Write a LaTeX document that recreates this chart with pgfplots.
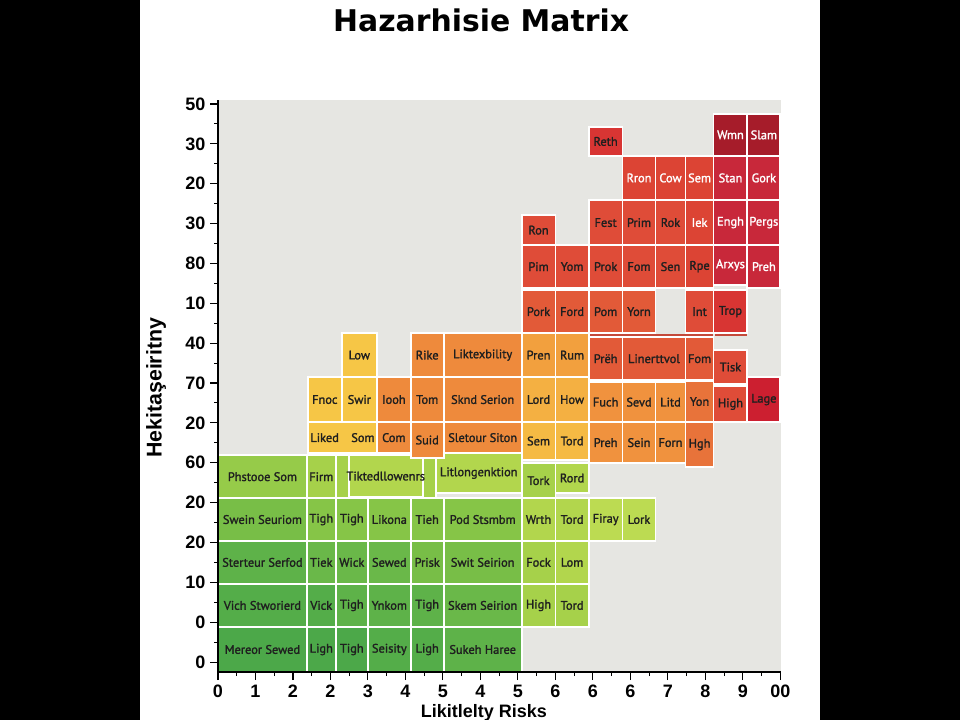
\documentclass[border=0pt]{standalone}
\usepackage{pgfplots}
\pgfplotsset{compat=1.18}
\usepackage{fontspec}
\setmainfont{Liberation Sans}
\newfontfamily\titlefont{DejaVu Sans}
\newfontfamily\cellfont{PT Sans}[FakeBold=1.6]

\definecolor{plotbg}{HTML}{E6E6E2}
\definecolor{ink}{HTML}{1F1F1F}
\definecolor{G1}{HTML}{4CA849}
\definecolor{G2}{HTML}{54AD49}
\definecolor{G3}{HTML}{5EB249}
\definecolor{G4}{HTML}{6AB849}
\definecolor{G5}{HTML}{78BE47}
\definecolor{G6}{HTML}{86C547}
\definecolor{G7}{HTML}{96CB49}
\definecolor{G8}{HTML}{A6D14A}
\definecolor{G9}{HTML}{B2D64D}
\definecolor{G10}{HTML}{BCDB52}
\definecolor{Y1}{HTML}{F6C646}
\definecolor{Y2}{HTML}{F5BA44}
\definecolor{Y3}{HTML}{F4B042}
\definecolor{Y4}{HTML}{F2A03E}
\definecolor{O1}{HTML}{EE8A3C}
\definecolor{O2}{HTML}{F0923E}
\definecolor{O3}{HTML}{E8733A}
\definecolor{R1}{HTML}{E25A38}
\definecolor{R2}{HTML}{DF4C38}
\definecolor{R3}{HTML}{DC4434}
\definecolor{R4}{HTML}{D83533}
\definecolor{R5}{HTML}{C8283A}
\definecolor{R6}{HTML}{A61C2A}
\definecolor{R7}{HTML}{CC1F30}
\definecolor{strip}{HTML}{C4493A}

% one cell: x0, x1, y0, y1, fill, label, text colour
\newcommand{\cell}[7]{%
  \addplot[fill=#5, draw=white, line width=1.3pt] coordinates {(#1,#3) (#2,#3) (#2,#4) (#1,#4)} --cycle;
  \node[text=#7, font=\cellfont\fontsize{9.3}{10}\selectfont, inner sep=0pt]
    at (axis cs:{(#1+#2)/2},{(#3+#4)/2}) {#6};
}

\begin{document}
\begin{tikzpicture}
\useasboundingbox (0pt,0pt) rectangle (720pt,-540pt);
\fill[black] (0pt,0pt) rectangle (720pt,-540pt);
\fill[white] (105pt,0pt) rectangle (615pt,-540pt);
\begin{axis}[
    at={(163.5pt,-504pt)}, anchor=south west,
    scale only axis, width=422.6pt, height=429pt,
    xmin=0, xmax=15.03, ymin=-0.25, ymax=14.1,
    axis background/.style={fill=plotbg},
    axis x line*=bottom, axis y line*=left,
    axis line style={black, line width=0.9pt, -},
    axis on top,
    xtick={0,...,15},
    xticklabels={0,1,2,2,3,4,5,4,5,6,6,6,7,8,9,00},
    ytick={0,...,14},
    yticklabels={0,0,10,20,20,60,20,70,40,10,80,30,20,30,50},
    minor x tick num=1, minor y tick num=1,
    tick align=outside, major tick length=6pt, minor tick length=3pt,
    every tick/.style={black, line width=0.8pt},
    tick label style={font=\bfseries\fontsize{13.5}{13.5}\selectfont},
    title={Hazarhisie Matrix},
    title style={at={(axis description cs:0.467,1.126)}, anchor=center,
      font=\titlefont\bfseries\fontsize{22.4}{22.4}\selectfont},
    xlabel={Likitlelty Risks},
    xlabel style={at={(axis description cs:0.472,-0.072)}, anchor=center,
      font=\bfseries\fontsize{13.5}{13.5}\selectfont},
    ylabel={Hekitaşeiritny},
    ylabel style={at={(axis description cs:-0.11,0.497)}, anchor=center,
      font=\bfseries\fontsize{16}{16}\selectfont},
]
% row 13
\cell{0}{2.37}{-0.25}{0.88}{G1}{Mereor Sewed}{ink}
\cell{2.37}{3.14}{-0.25}{0.88}{G1}{Ligh}{ink}
\cell{3.14}{4.00}{-0.25}{0.88}{G1}{Tigh}{ink}
\cell{4.00}{5.14}{-0.25}{0.88}{G2}{Seisity}{ink}
\cell{5.14}{6.02}{-0.25}{0.88}{G2}{Ligh}{ink}
\cell{6.02}{8.10}{-0.25}{0.88}{G3}{Sukeh Haree}{ink}
% row 12
\cell{0}{2.37}{0.88}{1.96}{G2}{Vich Stworierd}{ink}
\cell{2.37}{3.14}{0.88}{1.96}{G2}{Vick}{ink}
\cell{3.14}{4.00}{0.88}{1.96}{G3}{Tigh}{ink}
\cell{4.00}{5.14}{0.88}{1.96}{G3}{Ynkom}{ink}
\cell{5.14}{6.02}{0.88}{1.96}{G3}{Tigh}{ink}
\cell{6.02}{8.10}{0.88}{1.96}{G4}{Skem Seirion}{ink}
\cell{8.10}{9.00}{0.88}{1.96}{G8}{High}{ink}
\cell{9.00}{9.89}{0.88}{1.96}{G8}{Tord}{ink}
% row 11
\cell{0}{2.37}{1.96}{3.04}{G3}{Sterteur Serfod}{ink}
\cell{2.37}{3.14}{1.96}{3.04}{G4}{Tiek}{ink}
\cell{3.14}{4.00}{1.96}{3.04}{G4}{Wick}{ink}
\cell{4.00}{5.14}{1.96}{3.04}{G4}{Sewed}{ink}
\cell{5.14}{6.02}{1.96}{3.04}{G5}{Prisk}{ink}
\cell{6.02}{8.10}{1.96}{3.04}{G5}{Swit Seirion}{ink}
\cell{8.10}{9.00}{1.96}{3.04}{G8}{Fock}{ink}
\cell{9.00}{9.89}{1.96}{3.04}{G9}{Lom}{ink}
% row 10
\cell{0}{2.37}{3.04}{4.11}{G5}{Swein Seuriom}{ink}
\cell{2.37}{3.14}{3.04}{4.11}{G6}{Tigh}{ink}
\cell{3.14}{4.00}{3.04}{4.11}{G6}{Tigh}{ink}
\cell{4.00}{5.14}{3.04}{4.11}{G6}{Likona}{ink}
\cell{5.14}{6.02}{3.04}{4.11}{G6}{Tieh}{ink}
\cell{6.02}{8.10}{3.04}{4.11}{G6}{Pod Stsmbm}{ink}
\cell{8.10}{9.00}{3.04}{4.11}{G9}{Wrth}{ink}
\cell{9.00}{9.89}{3.04}{4.11}{G9}{Tord}{ink}
\cell{9.89}{10.79}{3.04}{4.11}{G10}{Firay}{ink}
\cell{10.79}{11.67}{3.04}{4.11}{G10}{Lork}{ink}
% row 9
\cell{0}{2.37}{4.11}{5.19}{G7}{Phstooe Som}{ink}
\cell{2.37}{3.14}{4.11}{5.19}{G8}{Firm}{ink}
\cell{3.14}{3.49}{4.11}{5.19}{G8}{}{ink}
\cell{5.46}{5.81}{4.11}{5.19}{G8}{}{ink}
\cell{3.49}{5.46}{4.14}{5.19}{G9}{Tiktedllowenrs}{ink}
\cell{5.81}{8.10}{4.24}{5.24}{G9}{Litlongenktion}{ink}
\cell{8.10}{9.00}{4.11}{4.99}{G8}{Tork}{ink}
\cell{9.00}{9.89}{4.24}{4.99}{G9}{Rord}{ink}
% row 8
\cell{2.40}{4.24}{5.24}{6.02}{Y1}{Liked\quad Som}{ink}
\cell{4.24}{5.14}{5.24}{6.02}{O1}{Com}{ink}
\cell{5.14}{6.02}{5.12}{6.02}{O1}{Suid}{ink}
\cell{6.02}{8.10}{5.24}{6.02}{O1}{Sletour Siton}{ink}
\cell{8.10}{9.00}{5.07}{6.02}{Y2}{Sem}{ink}
\cell{9.00}{9.89}{5.07}{6.02}{Y2}{Tord}{ink}
\cell{9.89}{10.79}{4.99}{6.02}{O2}{Preh}{ink}
\cell{10.79}{11.67}{4.99}{6.02}{O2}{Sein}{ink}
\cell{11.67}{12.47}{4.99}{6.02}{O2}{Forn}{ink}
\cell{12.47}{13.22}{4.89}{6.02}{O3}{Hgh}{ink}
% row 7
\cell{2.40}{3.30}{6.02}{7.15}{Y1}{Fnoc}{ink}
\cell{3.30}{4.24}{6.02}{7.15}{Y1}{Swir}{ink}
\cell{4.24}{5.14}{6.02}{7.15}{O1}{Iooh}{ink}
\cell{5.14}{6.02}{6.02}{7.15}{O1}{Tom}{ink}
\cell{6.02}{8.10}{6.02}{7.15}{O1}{Sknd Serion}{ink}
\cell{8.10}{9.00}{6.02}{7.15}{Y3}{Lord}{ink}
\cell{9.00}{9.89}{6.02}{7.15}{Y3}{How}{ink}
\cell{9.89}{10.79}{6.02}{7.02}{O2}{Fuch}{ink}
\cell{10.79}{11.67}{6.02}{7.02}{O2}{Sevd}{ink}
\cell{11.67}{12.47}{6.02}{7.02}{O2}{Litd}{ink}
\cell{12.47}{13.22}{6.02}{7.05}{O3}{Yon}{ink}
\cell{13.22}{14.12}{6.02}{6.92}{R2}{High}{ink}
\cell{14.12}{15.00}{6.02}{7.15}{R7}{Lage}{ink}
% row 6
\cell{3.30}{4.24}{7.15}{8.25}{Y1}{Low}{ink}
\cell{5.14}{6.02}{7.15}{8.25}{O1}{Rike}{ink}
\cell{6.02}{8.10}{7.15}{8.25}{O1}{Liktexbility}{ink}
\cell{8.10}{9.00}{7.15}{8.25}{Y4}{Pren}{ink}
\cell{9.00}{9.89}{7.15}{8.25}{Y4}{Rum}{ink}
\cell{9.89}{10.79}{7.07}{8.15}{R1}{Prëh}{ink}
\cell{10.79}{12.47}{7.07}{8.15}{R1}{Linerttvol}{ink}
\cell{12.47}{13.22}{7.07}{8.15}{R1}{Fom}{ink}
\cell{13.22}{14.12}{6.97}{7.83}{R2}{Tisk}{ink}
\addplot[fill=strip, draw=none] coordinates {(9.91,8.17) (13.20,8.17) (13.20,8.24) (9.91,8.24)} --cycle;
\addplot[fill=strip, draw=none] coordinates {(13.25,8.17) (14.10,8.17) (14.10,8.24) (13.25,8.24)} --cycle;
% row 5
\cell{8.10}{9.00}{8.25}{9.33}{R1}{Pork}{ink}
\cell{9.00}{9.89}{8.25}{9.33}{R1}{Ford}{ink}
\cell{9.89}{10.79}{8.25}{9.33}{R1}{Pom}{ink}
\cell{10.79}{11.67}{8.25}{9.33}{R1}{Yorn}{ink}
\cell{12.47}{13.22}{8.25}{9.33}{R2}{Int}{ink}
\cell{13.22}{14.12}{8.25}{9.33}{R4}{Trop}{ink}
% row 4
\cell{8.10}{9.00}{9.38}{10.46}{R2}{Pim}{ink}
\cell{9.00}{9.89}{9.38}{10.46}{R2}{Yom}{ink}
\cell{9.89}{10.79}{9.38}{10.46}{R2}{Prok}{ink}
\cell{10.79}{11.67}{9.38}{10.46}{R2}{Fom}{ink}
\cell{11.67}{12.47}{9.38}{10.46}{R2}{Sen}{ink}
\cell{12.47}{13.22}{9.38}{10.46}{R3}{Rpe}{ink}
\cell{13.22}{14.12}{9.46}{10.46}{R5}{Arxys}{white}
\cell{14.12}{15.00}{9.38}{10.46}{R5}{Preh}{white}
% row 3
\cell{8.10}{9.00}{10.46}{11.21}{R2}{Ron}{ink}
\cell{9.89}{10.79}{10.46}{11.59}{R2}{Fest}{ink}
\cell{10.79}{11.67}{10.46}{11.59}{R2}{Prim}{ink}
\cell{11.67}{12.47}{10.46}{11.59}{R2}{Rok}{ink}
\cell{12.47}{13.22}{10.46}{11.59}{R3}{Iek}{white}
\cell{13.22}{14.12}{10.46}{11.59}{R5}{Engh}{white}
\cell{14.12}{15.00}{10.46}{11.59}{R5}{Pergs}{white}
% row 2
\cell{10.79}{11.67}{11.59}{12.70}{R3}{Rron}{white}
\cell{11.67}{12.47}{11.59}{12.70}{R3}{Cow}{white}
\cell{12.47}{13.22}{11.59}{12.70}{R3}{Sem}{white}
\cell{13.22}{14.12}{11.59}{12.70}{R5}{Stan}{white}
\cell{14.12}{15.00}{11.59}{12.70}{R5}{Gork}{white}
% row 1
\cell{9.89}{10.79}{12.70}{13.42}{R4}{Reth}{ink}
\cell{13.22}{14.12}{12.70}{13.75}{R6}{Wmn}{white}
\cell{14.12}{15.00}{12.70}{13.75}{R6}{Slam}{white}
\end{axis}
\end{tikzpicture}
\end{document}
